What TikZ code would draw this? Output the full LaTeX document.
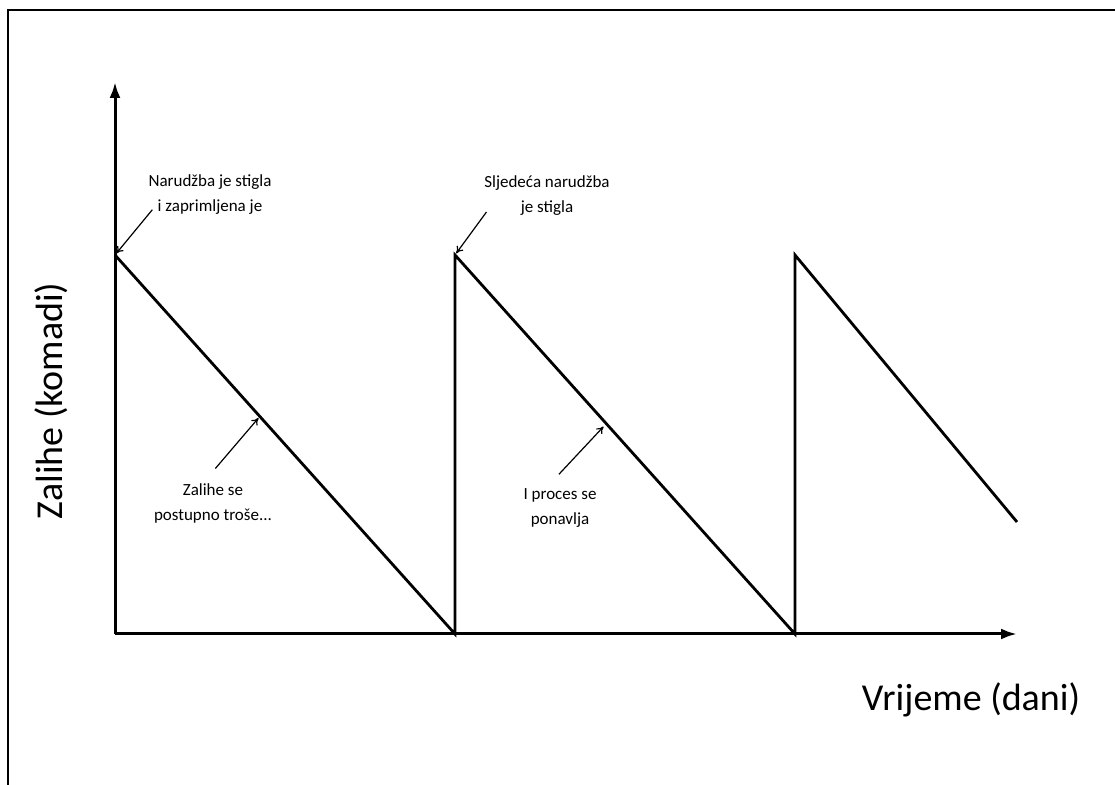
\documentclass[tikz,border=0pt]{standalone}
\usepackage{fontspec}
\setmainfont{Carlito}
\usetikzlibrary{arrows, arrows.meta, calc, positioning}

\begin{document}
\begin{tikzpicture}[x=0.5pt, y=-0.5pt, >={To[length=3.5pt, width=4pt]}]
	\tikzstyle{axis} = [line width=1.5pt, -{Latex[length=8pt, width=5.5pt]}]
	\tikzstyle{saw} = [line width=1.4pt, line join=miter]
	\tikzstyle{note} = [align=center, inner sep=1pt, font=\fontsize{8.5}{12.5}\selectfont]
	\tikzstyle{title} = [inner sep=0pt, font=\fontsize{19}{22}\selectfont]
	\tikzstyle{pointer} = [->, line width=0.6pt]

	\useasboundingbox (0,0) rectangle (1115,785);

	% frame
	\draw[line width=1pt] (8,785) -- (8,10) -- (1115,10);

	% axes
	\coordinate (o) at (115,634);
	\coordinate (ytop) at (115,82);
	\coordinate (xend) at (1017,634);
	\draw[axis] (o) -- (ytop);
	\draw[axis] (o) -- (xend);

	% stock level
	\coordinate (a1) at (115,255);
	\coordinate (b1) at (455,634);
	\coordinate (a2) at (455,255);
	\coordinate (b2) at (795,634);
	\coordinate (a3) at (795,255);
	\coordinate (e) at (1017,522);
	\draw[saw] (a1) -- (b1) -- (a2) -- (b2) -- (a3) -- (e);

	\coordinate (m1) at ($(a1)!0.426!(b1)$);
	\coordinate (m2) at ($(a2)!0.445!(b2)$);

	% labels
	\node[title, rotate=90] (ylab) at (51,401) {Zalihe (komadi)};
	\node[title] (xlab) at (971,700) {Vrijeme (dani)};

	\path[pointer]
		node[note] (n1) at (210,195) {Narudžba je stigla\\i zaprimljena je}
		node[note] (n2) at (547,196) {Sljedeća narudžba\\je stigla}
		node[note] (n3) at (213,503) {Zalihe se\\postupno troše...}
		node[note] (n4) at (560,508) {I proces se\\ponavlja}

		(n1.south west) edge[shorten <=-5pt, shorten >=1pt] (a1)
		(n2.south west) edge[shorten <=-4pt, shorten >=1pt] (a2)
		([xshift=-4pt]n3.north) edge[shorten <=8pt, shorten >=1pt] (m1)
		([xshift=-6pt]n4.north) edge[shorten <=8pt, shorten >=2pt] (m2)
	;
\end{tikzpicture}
\end{document}
